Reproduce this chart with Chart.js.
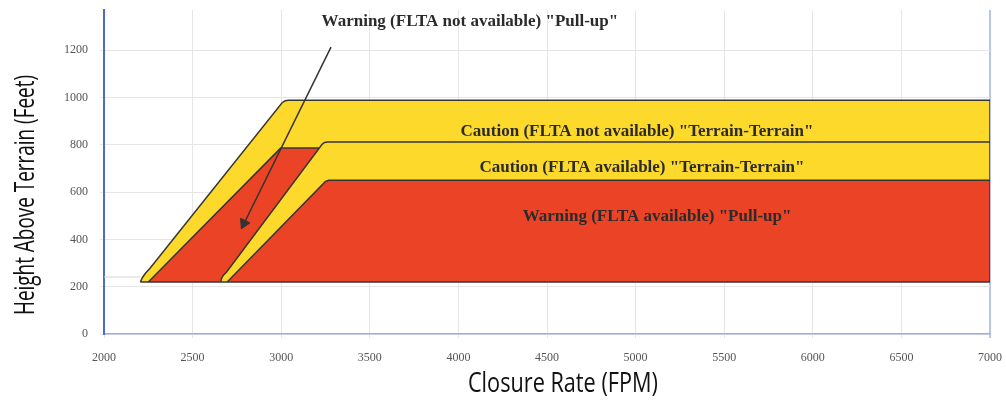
<!DOCTYPE html>
<html>
<head>
<meta charset="utf-8">
<script src="https://cdn.jsdelivr.net/npm/chart.js@4/dist/chart.umd.min.js"></script>
<style>
  html, body { margin: 0; padding: 0; background: #fff; }
  #wrap { width: 1006px; height: 400px; }
</style>
</head>
<body>
<div id="wrap"><canvas id="chart"></canvas></div>
<script>
// envelope outlines, closure rate (FPM) vs height above terrain (ft)
const cautionNoFltaX = [2205, 2218, 2235, 2262, 3005, 3022, 3042, 7000, 7000];
const cautionNoFltaY = [220, 240, 258, 280, 978, 986, 988, 988, 220];

const warningNoFltaX = [2250, 2997, 3300, 3300];
const warningNoFltaY = [220, 786, 786, 220];

const cautionFltaX = [2658, 2664, 2675, 2692, 3232, 3245, 3262, 7000, 7000];
const cautionFltaY = [220, 236, 250, 262, 803, 810, 812, 812, 220];

const warningFltaX = [2695, 3250, 3268, 7000, 7000];
const warningFltaY = [220, 645, 650, 650, 220];

const baseX = [2205, 7000];
const baseY = [220, 220];

const boxX = [2000, 2205];
const boxY = [241, 241];

// pointer from the top label down into the red zone
const arrowX = [3281, 2777];
const arrowY = [1213, 447];
const headX = [2790];
const headY = [468];

const zoneLabels = [
  'Warning (FLTA not available) "Pull-up"',
  'Caution (FLTA not available) "Terrain-Terrain"',
  'Caution (FLTA available) "Terrain-Terrain"',
  'Warning (FLTA available) "Pull-up"'
];
const zoneLabelX = [4065, 5008, 5036, 5121];
const zoneLabelY = [1320, 855, 703, 496];

const xTicks = [2000, 2500, 3000, 3500, 4000, 4500, 5000, 5500, 6000, 6500, 7000];
const yTicks = [0, 200, 400, 600, 800, 1000, 1200];

const xTitle = 'Closure Rate (FPM)';
const yTitle = 'Height Above Terrain (Feet)';

const YELLOW = '#fdd92b';
const RED = '#ea4325';
const EDGE = '#363636';

const pts = (xs, ys) => xs.map((x, i) => ({ x, y: ys[i] }));

function zone(data, color, order) {
  return {
    data,
    order,
    showLine: true,
    fill: 'shape',
    backgroundColor: color,
    borderColor: EDGE,
    borderWidth: 1.5,
    pointRadius: 0,
    tension: 0,
  };
}

// zone captions + condensed axis titles
const chartText = {
  id: 'chartText',
  afterDatasetsDraw(chart) {
    const { ctx, chartArea: a, scales: { x, y } } = chart;
    ctx.save();
    ctx.font = 'bold 17px "Liberation Serif", "Times New Roman", serif';
    ctx.fillStyle = '#2b2b2b';
    ctx.textAlign = 'center';
    ctx.textBaseline = 'middle';
    zoneLabels.forEach((t, i) => {
      ctx.fillText(t, x.getPixelForValue(zoneLabelX[i]), y.getPixelForValue(zoneLabelY[i]));
    });

    ctx.font = '28px "Open Sans", sans-serif';
    ctx.fillStyle = '#111';
    ctx.fillText(xTitle, a.left + (a.right - a.left) * 0.518, a.bottom + 50, 190);

    ctx.translate(26, a.top + (a.bottom - a.top) * 0.571);
    ctx.rotate(-Math.PI / 2);
    ctx.fillText(yTitle, 0, 0, 240);
    ctx.restore();
  }
};

const tickFont = { family: '"Liberation Serif", "Times New Roman", serif', size: 12 };

new Chart(document.getElementById('chart'), {
  type: 'scatter',
  data: {
    datasets: [
      zone(pts(cautionNoFltaX, cautionNoFltaY), YELLOW, 8),
      zone(pts(warningNoFltaX, warningNoFltaY), RED, 7),
      zone(pts(cautionFltaX, cautionFltaY), YELLOW, 6),
      zone(pts(warningFltaX, warningFltaY), RED, 5),
      {
        data: pts(baseX, baseY), order: 4, showLine: true, fill: false,
        borderColor: EDGE, borderWidth: 1.5, pointRadius: 0,
      },
      {
        data: pts(boxX, boxY), order: 3, showLine: true, fill: false,
        borderColor: '#d4d4d4', borderWidth: 1, pointRadius: 0,
      },
      {
        data: pts(arrowX, arrowY), order: 2, showLine: true, fill: false,
        borderColor: '#333', borderWidth: 1.5, pointRadius: 0,
      },
      {
        data: pts(headX, headY), order: 1, showLine: false,
        pointStyle: 'triangle', rotation: 206, pointRadius: 6,
        backgroundColor: '#333', borderColor: '#333', borderWidth: 1,
      },
    ]
  },
  options: {
    responsive: true,
    maintainAspectRatio: false,
    animation: false,
    devicePixelRatio: 1,
    layout: { padding: { top: 10, right: 16, left: 0, bottom: 0 } },
    plugins: {
      legend: { display: false },
      tooltip: { enabled: false },
    },
    scales: {
      x: {
        type: 'linear',
        min: 2000, max: 7000,
        afterFit: s => { s.height = 66; s.paddingLeft = 0; s.paddingRight = 0; },
        afterBuildTicks: s => { s.ticks = xTicks.map(v => ({ value: v })); },
        ticks: { font: tickFont, color: '#555', padding: 13, maxRotation: 0, callback: v => String(v) },
        grid: {
          color: c => c.tick && c.tick.value === 7000 ? '#b7c3e8' : '#e6e6e6',
          lineWidth: c => c.tick && c.tick.value === 7000 ? 2 : 1,
          tickLength: 4,
        },
        border: { color: '#9fb0e0', width: 1.5 },
      },
      y: {
        min: 0, max: 1370,
        afterFit: s => { s.width = 104; s.paddingTop = 0; s.paddingBottom = 0; },
        afterBuildTicks: s => { s.ticks = yTicks.map(v => ({ value: v })); },
        ticks: { font: tickFont, color: '#555', padding: 12, callback: v => String(v) },
        grid: { color: '#e6e6e6', tickLength: 4 },
        border: { color: '#4d6cc2', width: 2 },
      },
    },
  },
  plugins: [chartText],
});
</script>
</body>
</html>
